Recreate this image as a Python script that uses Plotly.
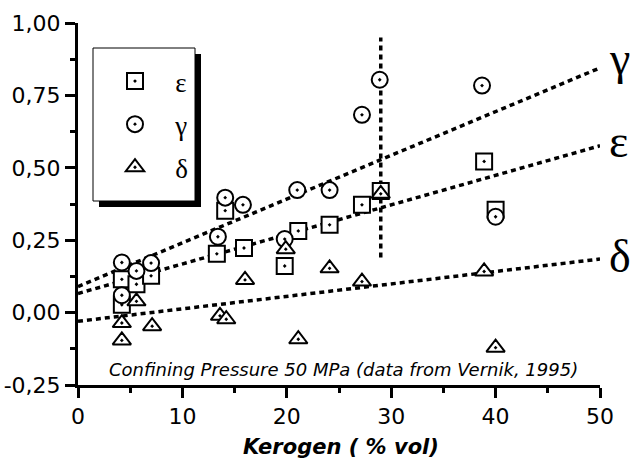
import plotly.graph_objects as go

# ---- data ----
kerogen_eps = [4.2, 4.2, 5.6, 7.0, 13.3, 14.1, 15.9, 19.8, 21.1, 24.1, 27.2, 29.0, 38.9, 40.0]
epsilon = [0.115, 0.027, 0.098, 0.127, 0.203, 0.352, 0.223, 0.161, 0.282, 0.303, 0.372, 0.42, 0.522, 0.355]

kerogen_gam = [4.2, 4.2, 5.6, 7.0, 13.4, 14.1, 15.8, 19.8, 21.0, 24.1, 27.2, 28.9, 38.7, 40.0]
gamma = [0.173, 0.060, 0.144, 0.171, 0.262, 0.397, 0.372, 0.254, 0.423, 0.423, 0.683, 0.804, 0.784, 0.331]

kerogen_del = [4.2, 4.2, 5.6, 7.1, 13.6, 14.2, 16.0, 19.9, 21.1, 24.1, 27.2, 29.0, 38.9, 40.0]
delta = [-0.036, -0.096, 0.039, -0.047, -0.011, -0.023, 0.113, 0.219, -0.092, 0.153, 0.107, 0.41, 0.142, -0.121]

fit_x = [0, 50]
fit_gamma = [0.09, 0.845]
fit_eps = [0.066, 0.576]
fit_delta = [-0.03, 0.185]

vline_x = [29, 29]
vline_y = [0.19, 0.95]

x_ticks = [0, 10, 20, 30, 40, 50]
y_ticks = [-0.25, 0, 0.25, 0.5, 0.75, 1.0]
y_ticktext = ["-0,25", "0,00", "0,25", "0,50", "0,75", "1,00"]

# ---- layout geometry ----
W, H = 637, 460
ML, MR, MT, MB = 78, 37, 23, 75
PW, PH = W - ML - MR, H - MT - MB


def px_to_paper(px, py):
    return (px - ML) / PW, (H - MB - py) / PH


fig = go.Figure()

dotted = dict(color="black", width=3.5, dash="5px,4px")
for fy in (fit_gamma, fit_eps, fit_delta):
    fig.add_trace(go.Scatter(x=fit_x, y=fy, mode="lines", line=dotted,
                             showlegend=False, hoverinfo="skip"))
fig.add_trace(go.Scatter(x=vline_x, y=vline_y, mode="lines", line=dotted,
                         showlegend=False, hoverinfo="skip"))

mk = dict(color="white", size=16, line=dict(color="black", width=2))
fig.add_trace(go.Scatter(x=kerogen_eps, y=epsilon, mode="markers", name="\u00a0\u00a0\u00a0ε",
                         legendgroup="e", marker=dict(symbol="square-dot", **mk)))
fig.add_trace(go.Scatter(x=kerogen_gam, y=gamma, mode="markers", name="\u00a0\u00a0\u00a0γ",
                         legendgroup="g", marker=dict(symbol="circle-dot", **mk)))
fig.add_trace(go.Scatter(x=kerogen_del, y=delta, mode="markers", name="\u00a0\u00a0\u00a0δ",
                         legendgroup="d", marker=dict(symbol="triangle-up-dot", **mk)))

axis_font = dict(family="DejaVu Sans", size=22, color="black")
fig.update_xaxes(range=[0, 50], tickvals=x_ticks, showline=True, linewidth=3, linecolor="black",
                 ticks="outside", ticklen=10, tickwidth=3, tickcolor="black",
                 minor=dict(dtick=5, ticks="outside", ticklen=5, tickwidth=3, tickcolor="black"),
                 showgrid=False, zeroline=False, tickfont=axis_font, automargin=False)
fig.update_yaxes(range=[-0.25, 1.0], tickvals=y_ticks, ticktext=y_ticktext, showline=True,
                 linewidth=3, linecolor="black", ticks="outside", ticklen=10, tickwidth=3,
                 tickcolor="black",
                 minor=dict(dtick=0.125, tick0=0, ticks="outside", ticklen=5, tickwidth=3,
                            tickcolor="black"),
                 showgrid=False, zeroline=False, tickfont=axis_font, automargin=False)

# legend box with drop shadow
bx0, by0 = px_to_paper(93, 201)
bx1, by1 = px_to_paper(195, 48)
sx0, sy0 = px_to_paper(99, 207)
sx1, sy1 = px_to_paper(201, 54)
fig.add_shape(type="rect", xref="paper", yref="paper", x0=sx0, y0=sy0, x1=sx1, y1=sy1,
              fillcolor="black", line=dict(width=0), layer="above")
fig.add_shape(type="rect", xref="paper", yref="paper", x0=bx0, y0=by0, x1=bx1, y1=by1,
              fillcolor="white", line=dict(color="black", width=1), layer="above")

lx, ly = px_to_paper(115, 57)
fig.update_layout(
    legend=dict(x=lx, y=ly, xanchor="left", yanchor="top", bgcolor="rgba(0,0,0,0)",
                borderwidth=0, font=dict(family="Liberation Serif, Times New Roman", size=27,
                                         color="black"),
                tracegroupgap=5, traceorder="grouped"),
)

ax, ay = px_to_paper(341, 447)
fig.add_annotation(x=ax, y=ay, xref="paper", yref="paper", text="Kerogen ( % vol)",
                   showarrow=False, xanchor="center", yanchor="middle",
                   font=dict(family="DejaVu Sans", size=21, color="black",
                             weight="bold", style="italic"))
fig.add_annotation(x=25.45, y=-0.198, xref="x", yref="y",
                   text="Confining Pressure 50 MPa (data from Vernik, 1995)",
                   showarrow=False, xanchor="center", yanchor="middle",
                   font=dict(family="DejaVu Sans", size=18, color="black",
                             style="italic"))

greek_font = dict(family="Liberation Serif, Times New Roman", size=46, color="black")
for label, py in (("γ", 58), ("ε", 141), ("δ", 256)):
    gx, gy = px_to_paper(607, py)
    fig.add_annotation(x=gx, y=gy, xref="paper", yref="paper", text=label, showarrow=False,
                       xanchor="left", yanchor="middle", font=greek_font)

fig.update_layout(width=W, height=H, margin=dict(l=ML, r=MR, t=MT, b=MB),
                  paper_bgcolor="white", plot_bgcolor="white")

fig.write_html("out.html")
